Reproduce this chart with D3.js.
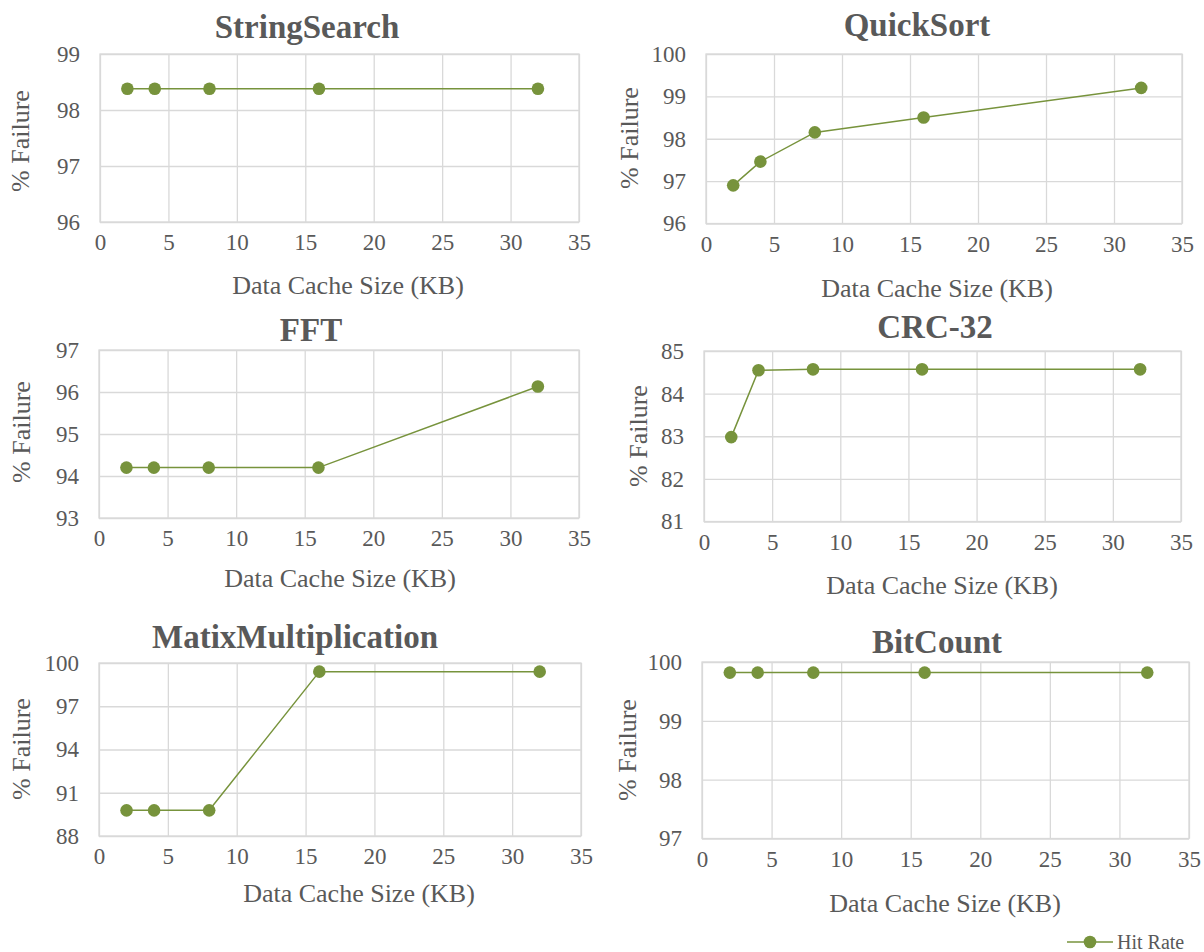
<!DOCTYPE html>
<html>
<head>
<meta charset="utf-8">
<script src="https://cdn.jsdelivr.net/npm/d3@7"></script>
<style>
  html, body { margin: 0; padding: 0; background: #ffffff; }
  svg { display: block; }
  text { font-family: "Liberation Serif", "Times New Roman", serif; fill: #595959; }
</style>
</head>
<body>
<svg id="chart" width="1204" height="952"></svg>
<script>
// ---- data ----
const cacheSizes = [2, 4, 8, 16, 32];
const stringSearch = [98.38, 98.38, 98.38, 98.38, 98.38];
const quickSort = [96.9, 97.46, 98.15, 98.5, 99.2];
const fft = [94.2, 94.2, 94.2, 94.2, 96.13];
const crc32 = [82.98, 84.55, 84.57, 84.57, 84.57];
const matixMultiplication = [89.78, 89.78, 89.78, 99.4, 99.4];
const bitCount = [99.82, 99.82, 99.82, 99.82, 99.82];

const titles = ["StringSearch", "QuickSort", "FFT", "CRC-32", "MatixMultiplication", "BitCount"];
const xTicks = [0, 5, 10, 15, 20, 25, 30, 35];
const yTicksStringSearch = [96, 97, 98, 99];
const yTicksQuickSort = [96, 97, 98, 99, 100];
const yTicksFFT = [93, 94, 95, 96, 97];
const yTicksCRC = [81, 82, 83, 84, 85];
const yTicksMatix = [88, 91, 94, 97, 100];
const yTicksBitCount = [97, 98, 99, 100];
const xAxisTitle = "Data Cache Size (KB)";
const yAxisTitle = "% Failure";
const seriesName = "Hit Rate";

// ---- layout (positions only) ----
const panels = [
  { values: stringSearch, yTicks: yTicksStringSearch, box: [100, 579, 54, 222],
    title: [307, 38], xt: [348, 294], yt: [20, 141] },
  { values: quickSort, yTicks: yTicksQuickSort, box: [706, 1182, 54, 223.5],
    title: [917, 36], xt: [937, 297], yt: [629, 138] },
  { values: fft, yTicks: yTicksFFT, box: [99, 579, 350, 518],
    title: [311, 341], xt: [340, 587], yt: [21, 432] },
  { values: crc32, yTicks: yTicksCRC, box: [704, 1181, 351, 521.5],
    title: [935, 338], xt: [942, 594], yt: [638, 436] },
  { values: matixMultiplication, yTicks: yTicksMatix, box: [99, 581, 663, 836],
    title: [295, 648], xt: [359, 902], yt: [21, 749] },
  { values: bitCount, yTicks: yTicksBitCount, box: [702, 1189, 662, 838.5],
    title: [937, 653], xt: [945, 912], yt: [627, 750] }
];

const green = "#77933c";
const grid = "#d9d9d9";
const serif = "'Liberation Serif', 'Times New Roman', serif";
const svg = d3.select("#chart");

panels.forEach((p, i) => {
  const [x0, x1, y0, y1] = p.box;
  const x = d3.scaleLinear().domain([0, 35]).range([x0, x1]);
  const y = d3.scaleLinear().domain(d3.extent(p.yTicks)).range([y1, y0]);
  const g = svg.append("g");

  const xAxis = d3.axisBottom(x).tickValues(xTicks).tickSize(-(y1 - y0)).tickPadding(12).tickFormat(d3.format("d"));
  const gx = g.append("g").attr("transform", `translate(0,${y1})`).call(xAxis);
  gx.attr("font-family", null).attr("font-size", null);
  gx.select(".domain").remove();
  gx.selectAll(".tick line").attr("stroke", grid).attr("stroke-width", 1.3);
  gx.selectAll(".tick text").style("font-size", "23px").style("fill", "#595959")
    .style("font-family", serif);

  const yAxis = d3.axisLeft(y).tickValues(p.yTicks).tickSize(-(x1 - x0)).tickPadding(20).tickFormat(d3.format("d"));
  const gy = g.append("g").attr("transform", `translate(${x0},0)`).call(yAxis);
  gy.attr("font-family", null).attr("font-size", null);
  gy.select(".domain").remove();
  gy.selectAll(".tick line").attr("stroke", grid).attr("stroke-width", 1.3);
  gy.selectAll(".tick text").style("font-size", "23px").style("fill", "#595959")
    .style("font-family", serif);

  g.append("rect").attr("x", x0).attr("y", y0).attr("width", x1 - x0).attr("height", y1 - y0)
    .attr("fill", "none").attr("stroke", grid).attr("stroke-width", 1.3);

  const pts = cacheSizes.map((c, k) => [c, p.values[k]]);
  g.append("path").datum(pts)
    .attr("fill", "none").attr("stroke", green).attr("stroke-width", 1.5)
    .attr("d", d3.line().x(d => x(d[0])).y(d => y(d[1])));
  g.selectAll("circle.pt").data(pts).enter().append("circle")
    .attr("cx", d => x(d[0])).attr("cy", d => y(d[1])).attr("r", 6.3)
    .attr("fill", green);

  g.append("text").attr("x", p.title[0]).attr("y", p.title[1])
    .attr("text-anchor", "middle").style("font-size", "33px").style("font-weight", "bold")
    .text(titles[i]);
  g.append("text").attr("x", p.xt[0]).attr("y", p.xt[1])
    .attr("text-anchor", "middle").style("font-size", "26px").text(xAxisTitle);
  g.append("text").attr("transform", `translate(${p.yt[0]},${p.yt[1]}) rotate(-90)`)
    .attr("text-anchor", "middle").attr("dy", "0.35em").style("font-size", "26px").text(yAxisTitle);
});

// legend
const lg = svg.append("g");
lg.append("line").attr("x1", 1067).attr("x2", 1113).attr("y1", 942).attr("y2", 942)
  .attr("stroke", green).attr("stroke-width", 1.5);
lg.append("circle").attr("cx", 1090).attr("cy", 942).attr("r", 6.3).attr("fill", green);
lg.append("text").attr("x", 1117).attr("y", 942).attr("dy", "0.33em")
  .style("font-size", "20px").text(seriesName);
</script>
</body>
</html>
